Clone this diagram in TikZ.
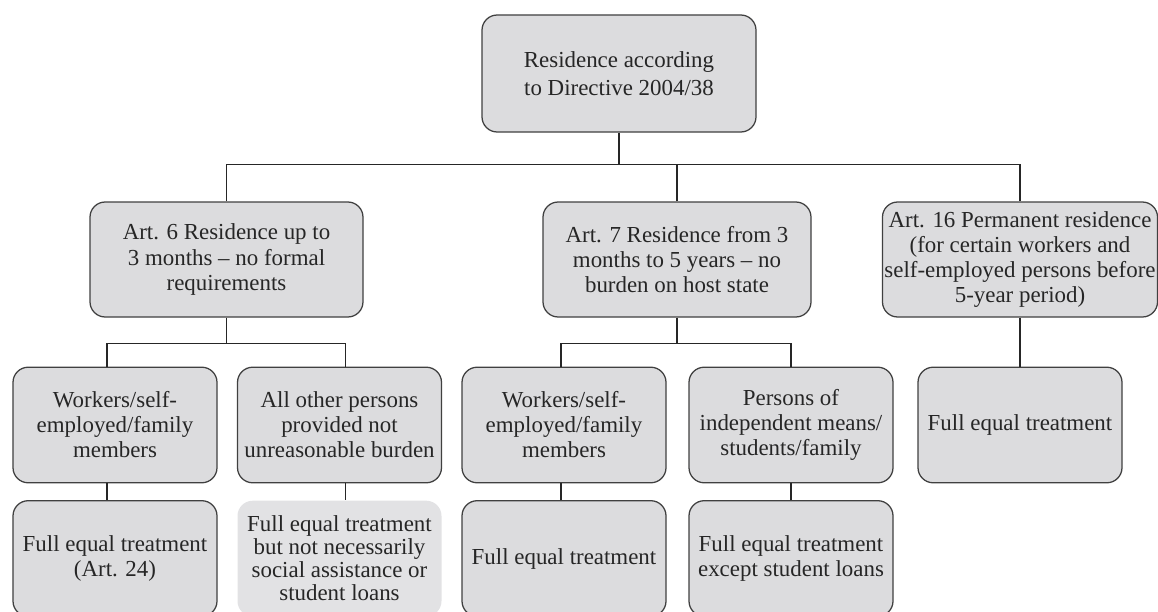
\documentclass[tikz,border=0pt]{standalone}
\usepackage{fontspec}
\setmainfont{Liberation Serif}
\usepackage{xcolor}
\usepackage{tikz}
\definecolor{boxgray}{RGB}{220,220,222}
\definecolor{boxline}{RGB}{64,64,64}
\definecolor{lightbox}{RGB}{226,226,228}
\tikzset{
  rbox/.style={draw=boxline, line width=0.9pt, fill=boxgray, rounded corners=0.38cm,
    align=center, inner sep=0.05cm, minimum width=5.1cm, minimum height=2.89cm,
    text=black!85, font=\fontsize{16.3}{17.8}\selectfont},
  link/.style={line width=0.8pt, draw=black!85}
}

\begin{document}
\begin{tikzpicture}
  \useasboundingbox (0,0) rectangle (28.95,-15.3);

  \draw (15.475,-1.8375) node[rbox,minimum width=6.85cm,minimum height=2.925cm,font=\fontsize{16.3}{19.5}\selectfont] (residence) {Residence according\\to Directive 2004/38};

  \draw (5.6625,-6.4875) node[rbox,minimum width=6.825cm,minimum height=2.875cm] (art6) {Art. 6 Residence up to\\3 months – no formal\\requirements};
  \draw (16.925,-6.4875) node[rbox,minimum width=6.7cm,minimum height=2.875cm] (art7) {Art. 7 Residence from 3\\months to 5 years – no\\burden on host state};
  \draw (25.5,-6.4875) node[rbox,minimum width=6.8cm,minimum height=2.875cm] (art16) {Art. 16 Permanent residence\\(for certain workers and\\self-employed persons before\\5-year period)};

      \draw (2.875,-10.625) node[rbox] (work6) {Workers/self-\\employed/family\\members};
      \draw (8.4875,-10.625) node[rbox] (other6) {All other persons\\provided not\\unreasonable burden};
      \draw (14.1,-10.625) node[rbox] (work7) {Workers/self-\\employed/family\\members};
      \draw (19.775,-10.625) node[rbox] (means7) {Persons of\\independent means/\\students/family};
      \draw (25.5,-10.625) node[rbox] (full16) {Full equal treatment};

	\draw (2.875,-13.9625) node[rbox] (equal6) {Full equal treatment\\(Art. 24)};
	\draw (8.4875,-13.9625) node[rbox,draw=none,fill=lightbox,font=\fontsize{16.3}{16.3}\selectfont] (social6) {Full equal treatment\\but not necessarily\\social assistance or\\student loans};
	\draw (14.1,-13.9625) node[rbox] (equal7) {Full equal treatment};
	\draw (19.775,-13.9625) node[rbox] (loans7) {Full equal treatment\\except student loans};

    \draw[link] (residence.south) -- ++(0,-0.8) coordinate (fork);
    \draw[link] (art6.north) |- (fork) -| (art16.north);
    \draw[link] (art7.north) -- (art7.north |- fork);

    \draw[link] (art6.south) -- ++(0,-0.65) coordinate (fork6);
    \draw[link] ([xshift=-0.2cm]work6.north) |- (fork6) -| ([xshift=0.14cm]other6.north);
    \draw[link] (art7.south) -- ++(0,-0.65) coordinate (fork7);
    \draw[link] ([xshift=-0.075cm]work7.north) |- (fork7) -| (means7.north);
    \path[link] (art16) edge (full16);

    \draw[link] ([xshift=-0.2cm]work6.south) -- ([xshift=-0.2cm]equal6.north);
    \draw[link] ([xshift=0.14cm]other6.south) -- ([xshift=0.14cm]social6.north);
    \draw[link] ([xshift=-0.075cm]work7.south) -- ([xshift=-0.075cm]equal7.north);
    \path[link] (means7) edge (loans7);

\end{tikzpicture}
\end{document}
